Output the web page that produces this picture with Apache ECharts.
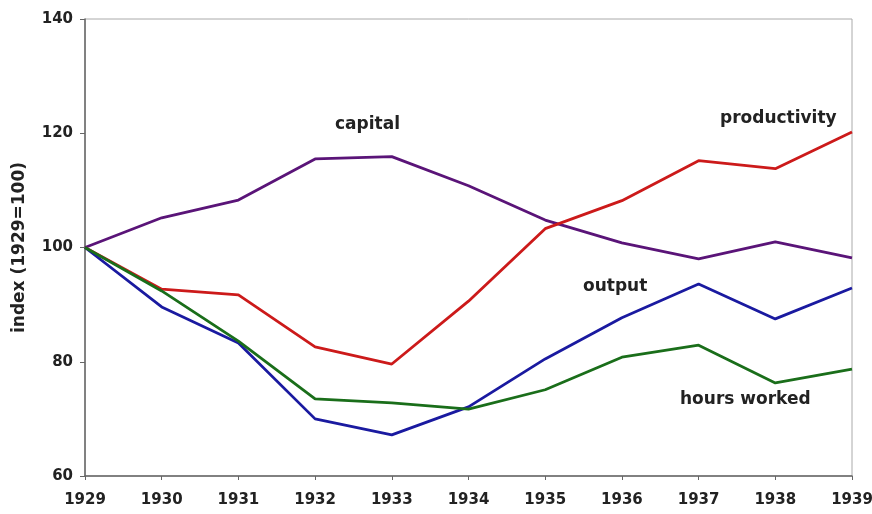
<!DOCTYPE html>
<html><head><meta charset="utf-8">
<script src="https://cdn.jsdelivr.net/npm/echarts@6/dist/echarts.min.js"></script>
<style>html,body{margin:0;padding:0;background:#fff}#c{width:872px;height:514px}</style>
</head><body><div id="c"></div>
<script>
var years = ['1929','1930','1931','1932','1933','1934','1935','1936','1937','1938','1939'];
var capital = [100, 105.2, 108.3, 115.5, 115.9, 110.8, 104.8, 100.8, 98.0, 101.0, 98.2];
var productivity = [100, 92.7, 91.7, 82.6, 79.6, 90.6, 103.3, 108.2, 115.2, 113.8, 120.2];
var output = [100, 89.6, 83.3, 70.0, 67.2, 72.1, 80.5, 87.7, 93.6, 87.5, 92.9];
var hoursWorked = [100, 92.4, 83.6, 73.5, 72.8, 71.7, 75.1, 80.8, 82.9, 76.3, 78.7];
var yTicks = [60, 80, 100, 120, 140];

var chart = echarts.init(document.getElementById('c'));
var font = '"DejaVu Sans", Verdana, sans-serif';
function ser(name, data, color) {
  return {name: name, type: 'line', data: data, symbol: 'none',
    lineStyle: {color: color, width: 2.8}, itemStyle: {color: color}, z: 3};
}
chart.setOption({
  animation: false,
  backgroundColor: '#fff',
  grid: {left: 85, right: 20, top: 19, bottom: 38, show: true, borderColor: '#aaa', borderWidth: 1,
    containLabel: false, outerBoundsMode: 'none'},
  xAxis: {type: 'category', data: years, boundaryGap: false,
    axisLine: {lineStyle: {color: '#666', width: 1.5}},
    axisTick: {inside: false, length: 4, lineStyle: {color: '#666'}},
    axisLabel: {color: '#222', fontFamily: font, fontWeight: 'bold', fontSize: 15, margin: 17},
    splitLine: {show: false}},
  yAxis: {type: 'value', min: yTicks[0], max: yTicks[yTicks.length-1], interval: 20,
    name: 'index (1929=100)', nameLocation: 'middle', nameGap: 57,
    nameTextStyle: {color: '#222', fontFamily: font, fontWeight: 'bold', fontSize: 17},
    axisLine: {show: true, lineStyle: {color: '#666', width: 1.5}},
    axisTick: {show: true, length: 5, lineStyle: {color: '#666'}},
    axisLabel: {color: '#222', fontFamily: font, fontWeight: 'bold', fontSize: 15, margin: 12},
    splitLine: {show: false}},
  series: [
    ser('capital', capital, '#5a1478'),
    ser('productivity', productivity, '#cc1a1a'),
    ser('output', output, '#1a1aa0'),
    ser('hours worked', hoursWorked, '#1a6e1a')
  ],
  graphic: [
    {type: 'text', left: 335, top: 116, style: {text: 'capital', fill: '#222', font: 'bold 17px ' + font}},
    {type: 'text', left: 720, top: 110, style: {text: 'productivity', fill: '#222', font: 'bold 17px ' + font}},
    {type: 'text', left: 583, top: 278, style: {text: 'output', fill: '#222', font: 'bold 17px ' + font}},
    {type: 'text', left: 680, top: 391, style: {text: 'hours worked', fill: '#222', font: 'bold 17px ' + font}}
  ]
});
</script></body></html>
